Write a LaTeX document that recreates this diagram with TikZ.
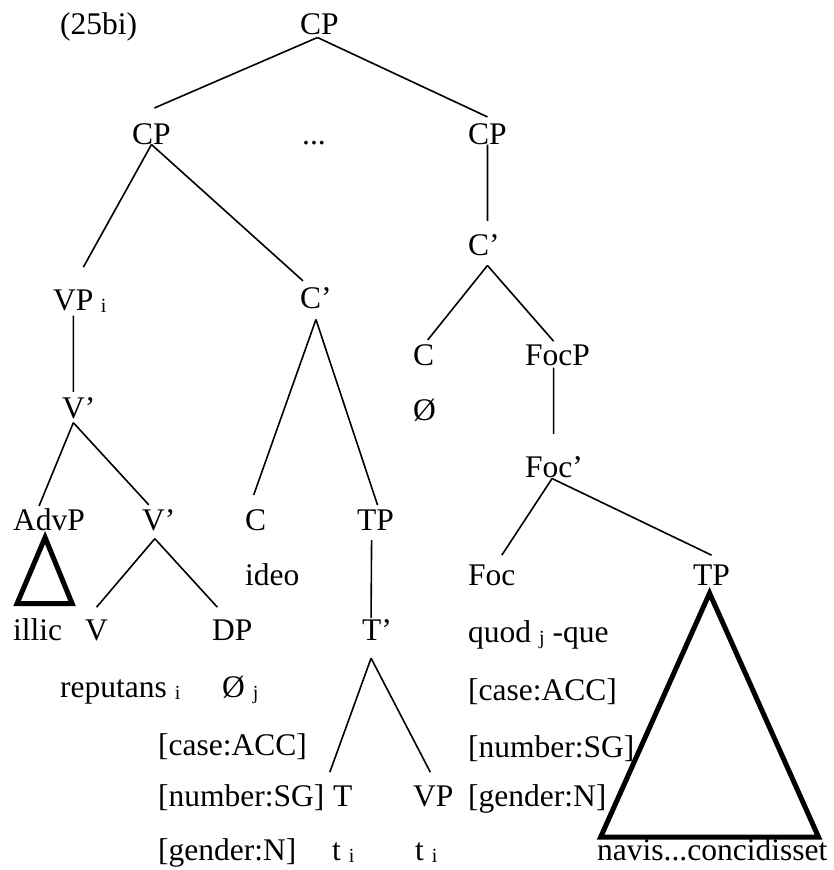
\documentclass[tikz,border=0pt]{standalone}
\usepackage{fontspec}
\setmainfont{Liberation Serif}
% small index letters next to a word
\newcommand{\ix}[1]{{\fontsize{20}{20}\selectfont\raisebox{-2pt}{#1}}}
\tikzset{%
  lbl/.style  ={inner sep=0pt, anchor=base west, font=\fontsize{31.5}{36}\selectfont},
  ln/.style   ={-, line width=1.6pt},
  roof/.style ={line width=5pt, line join=miter}
}

\begin{document}
\begin{tikzpicture}[x=1pt, y=-1pt]
  \useasboundingbox (0,0) rectangle (834,870);
  % labels of the tree
  \node[lbl] (ex) at (60,34) {(25bi)};
  \node[lbl] (cp0) at (300,34) {CP};
  \node[lbl] (cp1) at (132,144) {CP};
  \node[lbl] (dots) at (302,144) {...};
  \node[lbl] (cp2) at (468,144) {CP};
  \node[lbl] (cb2) at (468,255) {C’};
  \node[lbl] (vp) at (53,310) {VP};
  \node[lbl] (vpi) at ([xshift=7pt]vp.base east) {\ix{i}};
  \node[lbl] (cb1) at (300,308) {C’};
  \node[lbl] (c2) at (413,365) {C};
  \node[lbl] (focp) at (525,365) {FocP};
  \node[lbl] (nul2) at (413,420) {Ø};
  \node[lbl] (vb) at (62,418) {V’};
  \node[lbl] (focb) at (525,477) {Foc’};
  \node[lbl] (advp) at (13,530) {AdvP};
  \node[lbl] (vb2) at (142,530) {V’};
  \node[lbl] (c1) at (245,530) {C};
  \node[lbl] (tp1) at (357,530) {TP};
  \node[lbl] (ideo) at (245,585) {ideo};
  \node[lbl] (foc) at (468,585) {Foc};
  \node[lbl] (tp2) at (693,585) {TP};
  \node[lbl] (illic) at (13,640) {illic};
  \node[lbl] (v) at (85,640) {V};
  \node[lbl] (dp) at (212,640) {DP};
  \node[lbl] (tb) at (362,640) {T’};
  \node[lbl] (quod) at (468,642) {quod \ix{j} -que};
  \node[lbl] (reput) at (60,697) {reputans \ix{i}};
  \node[lbl] (nul1) at (222,697) {Ø \ix{j}};
  \node[lbl] (case2) at (468,700) {[case:ACC]};
  \node[lbl] (case1) at (158,755) {[case:ACC]};
  \node[lbl] (num2) at (468,757) {[number:SG]};
  \node[lbl] (num1) at (158,806) {[number:SG]};
  \node[lbl] (t) at (333,806) {T};
  \node[lbl] (vp2) at (413,806) {VP};
  \node[lbl] (gen2) at (468,806) {[gender:N]};
  \node[lbl] (gen1) at (158,860) {[gender:N]};
  \node[lbl] (tr1) at (332,860) {t \ix{i}};
  \node[lbl] (tr2) at (415,860) {t \ix{i}};
  \node[lbl] (navis) at (597,860) {navis...concidisset};
  % branches
  \draw[ln] ([xshift=-2pt,yshift=-3pt]cp0.south) -- ([xshift=3pt,yshift=15pt]cp1.north);
  \draw[ln] ([xshift=-2pt,yshift=-3pt]cp0.south) -- ([yshift=6pt]cp2.north);
  \draw[ln] (cp1.south) -- ([xshift=10pt,yshift=22pt]vp.north);
  \draw[ln] (cp1.south) -- ([xshift=-13pt,yshift=6pt]cb1.north);
  \draw[ln] (cp2.south) -- ([xshift=3.5pt,yshift=13pt]cb2.north);
  \draw[ln] ([xshift=3.5pt,yshift=-10pt]cb2.south) -- ([xshift=4pt,yshift=4pt]c2.north);
  \draw[ln] ([xshift=3.5pt,yshift=-10pt]cb2.south) -- ([xshift=-4pt,yshift=3pt]focp.north);
  \draw[ln] ([yshift=-5pt]vp.south) -- ([xshift=-5.5pt,yshift=5pt]vb.north);
  \draw[ln] ([yshift=-11pt]cb1.south) -- ([xshift=-2pt,yshift=14pt]c1.north);
  \draw[ln] ([yshift=-11pt]cb1.south) -- ([xshift=2pt,yshift=4pt]tp1.north);
  \draw[ln] ([xshift=-4pt,yshift=-2pt]focp.south) -- ([xshift=-0.5pt,yshift=22pt]focb.north);
  \draw[ln] ([xshift=-5.5pt,yshift=-4pt]vb.south) -- ([xshift=-10pt,yshift=2pt]advp.north);
  \draw[ln] ([xshift=-5.5pt,yshift=-4pt]vb.south) -- ([xshift=-10pt,yshift=4pt]vb2.north);
  \draw[ln] ([xshift=-2pt,yshift=-1pt]focb.south) -- ([xshift=10pt,yshift=9pt]foc.north);
  \draw[ln] ([xshift=-2pt,yshift=-1pt]focb.south) -- ([yshift=9pt]tp2.north);
  \draw[ln] ([xshift=-4pt,yshift=-10pt]tp1.south) -- ([xshift=-6pt,yshift=1pt]tb.north);
  \draw[ln] ([xshift=-4pt,yshift=-8pt]vb2.south) -- ([yshift=12pt]v.north);
  \draw[ln] ([xshift=-4pt,yshift=-8pt]vb2.south) -- ([xshift=-15pt,yshift=12pt]dp.north);
  \draw[ln] ([xshift=-6pt,yshift=-18pt]tb.south) -- ([xshift=-13pt,yshift=13pt]t.north);
  \draw[ln] ([xshift=-6pt,yshift=-18pt]tb.south) -- ([xshift=-3pt,yshift=13pt]vp2.north);
  % triangles
  \draw[roof] ([xshift=-4pt,yshift=-7pt]advp.south) -- ++(-28,66) -- ++(55,0) -- cycle;
  \draw[roof] ([xshift=-2pt,yshift=-8pt]tp2.south) -- ++(-109,244) -- ++(218,0) -- cycle;
\end{tikzpicture}
\end{document}
